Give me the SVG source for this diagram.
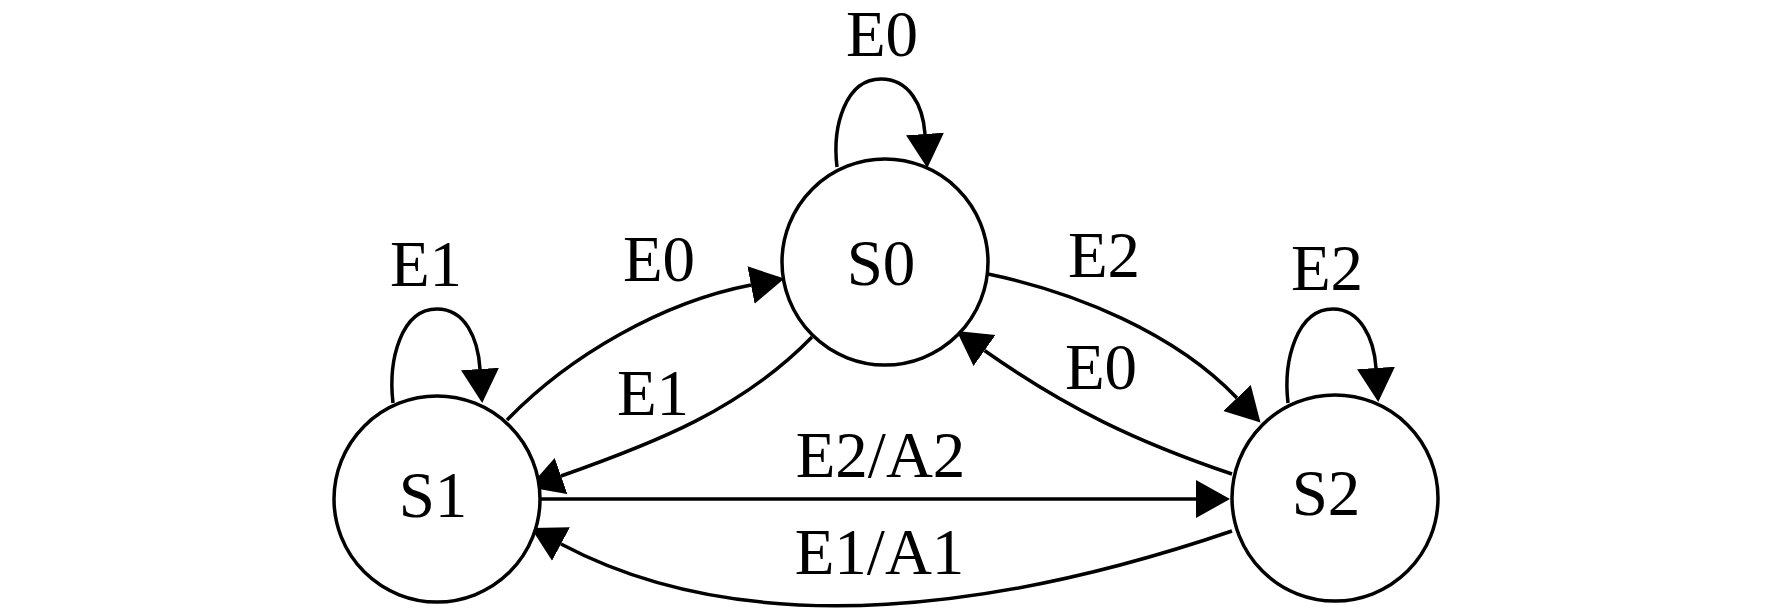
<svg xmlns="http://www.w3.org/2000/svg" width="1772" height="611" viewBox="0 0 1772 611">
<style>
.node circle{fill:#fff;stroke:#000;stroke-width:3.5}
text{font-family:"Liberation Serif","Times New Roman",serif;font-size:65px;fill:#000;text-anchor:middle}
.edges path{fill:none;stroke:#000;stroke-width:3.5;marker-end:url(#arr)}
</style>
<defs>
<marker id="arr" markerUnits="userSpaceOnUse" viewBox="0 0 34 40" markerWidth="34" markerHeight="40" refX="0" refY="20" orient="auto">
<path d="M0,1 L34,20 L0,39 z" fill="#000"/>
</marker>
</defs>
<rect width="1772" height="611" fill="#fff"/>
<g class="edges" id="connectors">
<path d="M837,167 C832,125 846,79 881,79 C909,79 923,105 925,134"/>
<path d="M393,403 C388,360 401,309 437,309 C465,309 478,338 480,369"/>
<path d="M1288,403 C1283,360 1297,309 1333,309 C1360,309 1374,338 1376,368"/>
<path d="M507,420 C570,355 663,302 751,285"/>
<path d="M812,337 C742,409 655,443 561,476"/>
<path d="M988,274 C1075,292 1175,333 1237,398"/>
<path d="M1232,474 C1137,442 1066,408 984.5,350.5"/>
<path d="M540,499 L1196,499"/>
<path d="M1232,531 C1012,606 755,647 561,544"/>
</g>
<g id="edge-labels">
<text x="882" y="56">E0</text>
<text x="426" y="286">E1</text>
<text x="1327" y="290">E2</text>
<text x="659" y="281">E0</text>
<text x="653" y="415">E1</text>
<text x="1104" y="277">E2</text>
<text x="1101" y="389">E0</text>
<text x="880.5" y="477">E2/A2</text>
<text x="879.5" y="574">E1/A1</text>
</g>
<g class="node" id="S0"><circle cx="885" cy="262" r="103"/><text x="881" y="285">S0</text></g>
<g class="node" id="S1"><circle cx="437" cy="499" r="103"/><text x="433" y="517">S1</text></g>
<g class="node" id="S2"><circle cx="1335" cy="498" r="103"/><text x="1326" y="515">S2</text></g>
</svg>
